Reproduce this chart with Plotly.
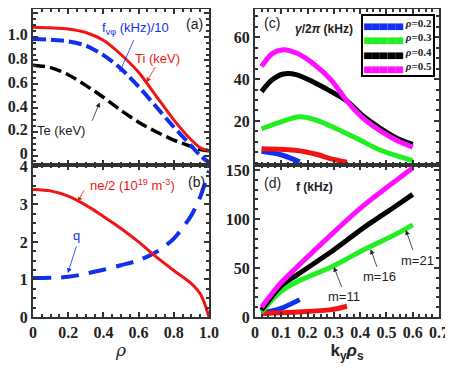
import plotly.graph_objects as go

# ---- panel (a): profiles vs rho
rho_a = [0, 0.1, 0.2, 0.3, 0.4, 0.5, 0.6, 0.7, 0.8, 0.9, 0.95, 1.0]
ti = [1.08, 1.075, 1.065, 1.035, 0.97, 0.85, 0.70, 0.50, 0.30, 0.13, 0.065, 0.04]
fv = [0.98, 0.975, 0.96, 0.925, 0.845, 0.73, 0.58, 0.41, 0.24, 0.08, 0.0, -0.06]
te = [0.76, 0.74, 0.68, 0.59, 0.49, 0.38, 0.28, 0.20, 0.13, 0.075, 0.05, 0.04]

# ---- panel (b): density and q
rho_ne = [0, 0.1, 0.2, 0.3, 0.4, 0.5, 0.6, 0.7, 0.8, 0.9, 0.95, 0.975, 1.0]
ne_half = [3.40, 3.36, 3.22, 2.98, 2.68, 2.36, 2.0, 1.6, 1.24, 0.89, 0.62, 0.36, 0.0]
rho_q = [0, 0.2, 0.4, 0.5, 0.6, 0.7, 0.8, 0.9, 0.95, 1.0]
q = [1.04, 1.07, 1.26, 1.38, 1.51, 1.73, 2.09, 2.71, 3.2, 3.9]

# ---- panel (c): growth rate gamma/2pi (kHz) vs ky*rho_s
ky_c = [0.025, 0.064, 0.108, 0.16, 0.22, 0.29, 0.35, 0.41, 0.48, 0.54, 0.6]
gam_05 = [46, 52, 54, 52.3, 47.5, 39.5, 29.5, 21.5, 15.0, 10.7, 7.5]
gam_04 = [34, 39.5, 42.4, 42, 38.7, 34, 29.5, 22.5, 16.3, 11.8, 8.8]
ky_c3 = [0.025, 0.096, 0.17, 0.236, 0.31, 0.39, 0.48, 0.6]
gam_03 = [16.3, 19.5, 22, 20.3, 16.3, 11.5, 5.9, 1.1]
ky_c2 = [0.025, 0.096, 0.17]
gam_02 = [5.6, 4.0, 0.5]
ky_c1 = [0.025, 0.16, 0.236, 0.29, 0.35]
gam_01 = [6.7, 5.9, 4.0, 1.9, 0.3]

# ---- panel (d): frequency f (kHz) vs ky*rho_s
ky_d = [0.025, 0.096, 0.16, 0.29, 0.41, 0.54, 0.6]
f_05 = [10, 34, 51, 84, 113, 140, 152]
f_04 = [7, 31, 43, 66.5, 90.4, 114, 125]
f_03 = [5, 25.6, 36, 51, 68, 85, 94]
ky_d2 = [0.025, 0.096, 0.17]
f_02 = [4, 8.5, 17.7]
ky_d1 = [0.025, 0.16, 0.29, 0.35]
f_01 = [3.4, 5, 7.5, 11]

# legend entries of panel (c)
legend_names = ['0.2', '0.3', '0.4', '0.5']

RED = '#f01414'
BLUE = '#1030f0'
GREEN = '#22ee22'
MAG = '#ff10ff'
BLK = '#000000'
legend_colors = [BLUE, GREEN, BLK, MAG]

fig = go.Figure()

def line(x, y, xa, ya, color, width, dash=None):
    fig.add_trace(go.Scatter(
        x=x, y=y, xaxis=xa, yaxis=ya, mode='lines',
        line=dict(color=color, width=width, dash=dash, shape='spline', smoothing=0.8),
        showlegend=False, hoverinfo='skip'))

# (a)
line(rho_a, te, 'x', 'y', BLK, 3.5, '12px,5px')
line(rho_a, fv, 'x', 'y', BLUE, 4, '13px,5px')
line(rho_a, ti, 'x', 'y', RED, 3)
# (b)
line(rho_q, q, 'x2', 'y2', BLUE, 4, '18px,10px')
line(rho_ne, ne_half, 'x2', 'y2', RED, 3)
# (c)
line(ky_c2, gam_02, 'x3', 'y3', BLUE, 5)
line(ky_c3, gam_03, 'x3', 'y3', GREEN, 5)
line(ky_c, gam_04, 'x3', 'y3', BLK, 5)
line(ky_c, gam_05, 'x3', 'y3', MAG, 5)
line(ky_c1, gam_01, 'x3', 'y3', RED, 5)
# (d)
line(ky_d2, f_02, 'x4', 'y4', BLUE, 5)
line(ky_d1, f_01, 'x4', 'y4', RED, 5)
line(ky_d, f_03, 'x4', 'y4', GREEN, 5)
line(ky_d, f_04, 'x4', 'y4', BLK, 5)
line(ky_d, f_05, 'x4', 'y4', MAG, 5)

tickfont = dict(family='Liberation Serif', size=16, color='#222', weight='bold')
frame = dict(showline=True, linewidth=2, linecolor='#333', mirror='allticks',
             ticks='inside', ticklen=5, tickwidth=1.5, tickcolor='#333',
             showgrid=False, zeroline=False, tickfont=tickfont, tickangle=0,
             automargin=False)

# the page body adds an 8px margin, so the figure is 8px smaller than the window
W, H = 445, 361
xl = [25 / W, 201 / W]
xr = [247 / W, 431 / W]
ytop = [1 - 157 / H, 1 - 1 / H]
ybot = [1 - 309 / H, 1 - 157 / H]

fig.update_layout(
    width=W, height=H,
    margin=dict(l=0, r=0, t=0, b=0, autoexpand=False),
    paper_bgcolor='white', plot_bgcolor='white',
    showlegend=False,
    xaxis=dict(frame, domain=xl, anchor='y', range=[0, 1.0], dtick=0.2,
               showticklabels=False, minor=dict(dtick=0.05, ticks='inside', ticklen=3)),
    yaxis=dict(frame, domain=ytop, anchor='x', range=[-0.08, 1.233],
               tickvals=[0, 0.2, 0.4, 0.6, 0.8, 1.0, 1.2],
               ticktext=['0', '0.2', '0.4', '0.6', '0.8', '1.0', '1.2'],
               ticklabelshift=-2,
               minor=dict(dtick=0.05, ticks='inside', ticklen=3)),
    xaxis2=dict(frame, domain=xl, anchor='y2', range=[0, 1.0],
                tickvals=[0, 0.2, 0.4, 0.6, 0.8, 1.0],
                ticktext=['0', '0.2', '0.4', '0.6', '0.8', '1.0'],
                minor=dict(dtick=0.05, ticks='inside', ticklen=3),
                title=dict(text='<i>ρ</i>', font=dict(family='DejaVu Serif', size=17, color='#222'),
                           standoff=4)),
    yaxis2=dict(frame, domain=ybot, anchor='x2', range=[0, 4.05], dtick=1,
                minor=dict(dtick=0.25, ticks='inside', ticklen=3)),
    xaxis3=dict(frame, domain=xr, anchor='y3', range=[0, 0.7], dtick=0.1,
                showticklabels=False, minor=dict(dtick=0.025, ticks='inside', ticklen=3)),
    yaxis3=dict(frame, domain=ytop, anchor='x3', range=[-1, 73.4],
                tickvals=[20, 40, 60], minor=dict(dtick=5, ticks='inside', ticklen=3)),
    xaxis4=dict(frame, domain=xr, anchor='y4', range=[0, 0.7],
                tickvals=[0, 0.1, 0.2, 0.3, 0.4, 0.5, 0.6, 0.7],
                ticktext=['0', '0.1', '0.2', '0.3', '0.4', '0.5', '0.6', '0.7'],
                minor=dict(dtick=0.025, ticks='inside', ticklen=3),
                title=dict(text='<b>k<sub>y</sub><i>ρ</i><sub>s</sub></b>',
                           font=dict(family='Liberation Sans', size=17, color='#222'),
                           standoff=2)),
    yaxis4=dict(frame, domain=ybot, anchor='x4', range=[0, 155],
                tickvals=[0, 50, 100, 150], minor=dict(dtick=10, ticks='inside', ticklen=3)),
)

sans = 'Liberation Sans'
ann = []

def txt(x, y, xr_, yr_, text, color, size=13, family=sans):
    ann.append(dict(x=x, y=y, xref=xr_, yref=yr_, text=text, showarrow=False,
                    font=dict(family=family, size=size, color=color)))

def arr(x0, y0, x1, y1, xr_, yr_, color):
    ann.append(dict(x=x1, y=y1, ax=x0, ay=y0, xref=xr_, yref=yr_, axref=xr_, ayref=yr_,
                    text='', showarrow=True, arrowhead=2, arrowsize=1.2, arrowwidth=0.8,
                    arrowcolor=color))

# (a)
txt(0.915, 1.108, 'x', 'y', '(a)', '#222', 14)
txt(0.58, 1.066, 'x', 'y', 'f<sub>vφ</sub> (kHz)/10', BLUE, 13)
arr(0.576, 0.983, 0.492, 0.70, 'x', 'y', BLUE)
txt(0.706, 0.815, 'x', 'y', 'Ti (keV)', RED, 13)
arr(0.70, 0.757, 0.644, 0.615, 'x', 'y', RED)
txt(0.158, 0.213, 'x', 'y', 'Te (keV)', '#222', 13)
arr(0.333, 0.28, 0.379, 0.447, 'x', 'y', '#222')
# (b)
txt(0.927, 3.6, 'x2', 'y2', '(b)', '#222', 14)
txt(0.565, 3.52, 'x2', 'y2', 'ne/2 (10<sup>19</sup> m<sup>-3</sup>)', RED, 13)
arr(0.294, 3.41, 0.254, 3.07, 'x2', 'y2', RED)
txt(0.249, 2.16, 'x2', 'y2', 'q', BLUE, 13)
arr(0.249, 1.92, 0.198, 1.17, 'x2', 'y2', BLUE)
# (c)
txt(0.064, 66.7, 'x3', 'y3', '(c)', '#222', 14)
txt(0.262, 63.8, 'x3', 'y3', '<b><i>γ</i>/2<i>π</i> (kHz)</b>', '#222', 12)
# (c) legend box, built as one text block
legend_rows = [
    '<span style="color:%s">▄▄▄▄▄</span> <i>ρ</i>=%s' % (c, n)
    for c, n in zip(legend_colors, legend_names)
]
ann.append(dict(x=427 / W, y=1 - 6 / H, xref='paper', yref='paper',
                xanchor='right', yanchor='top', align='left', showarrow=False,
                text='<br>'.join(legend_rows), bgcolor='white',
                bordercolor='black', borderwidth=2, borderpad=1,
                font=dict(family='Liberation Serif', size=11, color='#222', weight='bold')))
# (d)
txt(0.068, 136.4, 'x4', 'y4', '(d)', '#222', 14)
txt(0.226, 133, 'x4', 'y4', '<b>f (kHz)</b>', '#222', 12)
txt(0.338, 20.4, 'x4', 'y4', 'm=11', '#222', 13)
arr(0.332, 29.0, 0.30, 51.1, 'x4', 'y4', '#222')
txt(0.472, 40.9, 'x4', 'y4', 'm=16', '#222', 13)
arr(0.466, 49.6, 0.44, 69, 'x4', 'y4', '#222')
txt(0.618, 58, 'x4', 'y4', 'm=21', '#222', 13)
arr(0.603, 66.5, 0.574, 88.7, 'x4', 'y4', '#222')

fig.update_layout(annotations=ann)
fig.write_html('out.html')
